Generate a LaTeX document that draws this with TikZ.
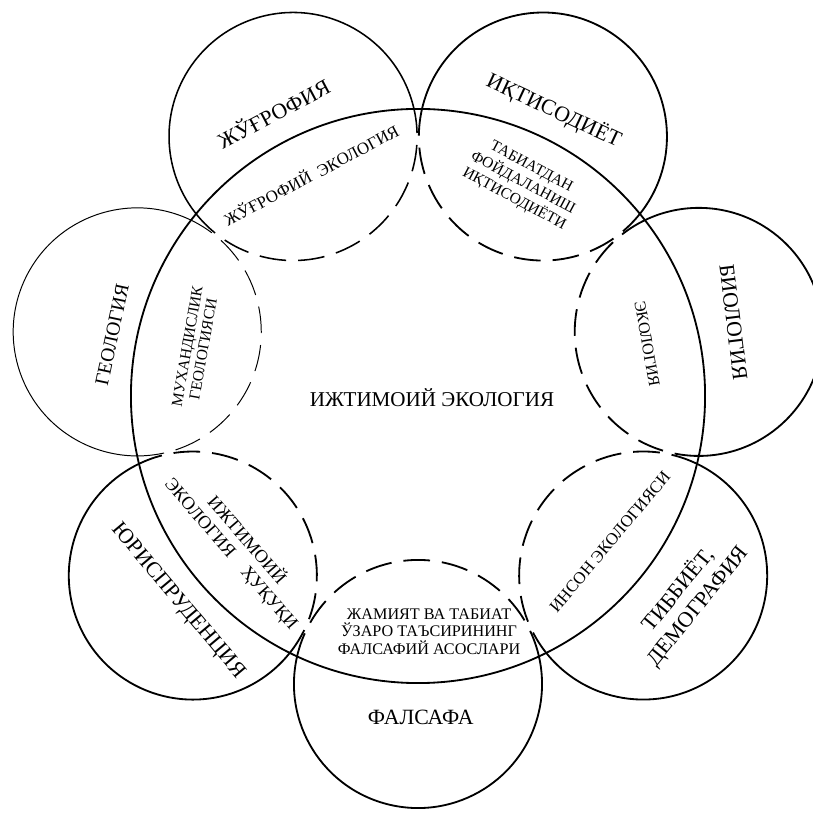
\documentclass[tikz,border=0pt]{standalone}
\usepackage{fontspec}
\setmainfont{Liberation Serif}
\usepackage{tikz}
\newcommand\ringrad{3.1cm}
\newcommand\hubrad{7.175cm}
\tikzstyle{outer part} = [line width=1.3pt]
\tikzstyle{inner part} = [line width=1.3pt, dash pattern=on 19pt off 8.5pt]

\begin{document}
\begin{tikzpicture}[x=0.025cm, y=0.025cm,
                    field label/.style={font=\fontsize{15.5}{18}\selectfont, align=center, inner sep=0pt},
                    overlap label/.style={font=\fontsize{11.5}{13}\selectfont, align=center, inner sep=0pt}]
  \useasboundingbox (0,0) rectangle (812,814);
  \coordinate (o) at (418,418);

  \draw[outer part] (o) circle[radius=\hubrad];

  % seven fields round the centre, the part inside the centre is dashed
  \foreach \phi/\name/\lw in {-90/falsafa/1.3pt, -38.57/tibbiyot/1.3pt, 12.86/biologiya/1.3pt,
                              64.29/iqtisod/1.3pt, 115.71/jugrofiya/1.1pt, 167.14/geologiya/0.7pt,
                              218.57/yurisprud/1.3pt}
  {
    \coordinate (\name) at ([shift={(\phi:288)}]o);
    \draw[outer part, line width=\lw] ([shift={(\phi-103:\ringrad)}]\name)
         arc[start angle=\phi-103, end angle=\phi+103, radius=\ringrad];
    \draw[inner part, line width=\lw] ([shift={(\phi+103:\ringrad)}]\name)
         arc[start angle=\phi+103, end angle=\phi+257, radius=\ringrad];
  }

  \node (hub text) at (432,416) {\fontsize{15}{15}\selectfont ИЖТИМОИЙ ЭКОЛОГИЯ};

  \node[field label, rotate=28] (jugrofiya text) at ([shift={(117.1:318)}]o) {ЖЎҒРОФИЯ};
  \node[field label, rotate=-25] (iqtisod text) at ([shift={(64.5:316)}]o) {ИҚТИСОДИЁТ};
  \node[field label, rotate=-83] (biologiya text) at ([shift={(13.2:324)}]o) {БИОЛОГИЯ};
  \node[field label, rotate=51] (tibbiyot text) at ([shift={(-36.8:337)}]o) {ТИББИЁТ,\\ДЕМОГРАФИЯ};
  \node[field label] (falsafa text) at ([shift={(-89.5:321)}]o) {ФАЛСАФА};
  \node[field label, rotate=-50] (yurisprud text) at ([shift={(220.5:316)}]o) {ЮРИСПРУДЕНЦИЯ};
  \node[field label, rotate=78, font=\fontsize{14}{14}\selectfont] (geologiya text) at ([shift={(168.7:312)}]o) {ГЕОЛОГИЯ};

  \node[overlap label, rotate=28, font=\fontsize{12}{12}\selectfont] (jugrofiya inner) at ([shift={(115.8:246)}]o) {ЖЎҒРОФИЙ\enspace ЭКОЛОГИЯ};
  \node[overlap label, rotate=-28, font=\fontsize{11}{13}\selectfont] (iqtisod inner) at ([shift={(63.8:237)}]o) {ТАБИАТДАН\\ФОЙДАЛАНИШ\\ИҚТИСОДИЁТИ};
  \node[overlap label, rotate=-80] (biologiya inner) at ([shift={(12.8:235)}]o) {ЭКОЛОГИЯ};
  \node[overlap label, rotate=50, font=\fontsize{12}{12}\selectfont] (tibbiyot inner) at ([shift={(-37.2:241)}]o) {ИНСОН ЭКОЛОГИЯСИ};
  \node[overlap label, font=\fontsize{11.5}{12.5}\selectfont] (falsafa inner) at ([shift={(-87.3:236)}]o) {ЖАМИЯТ ВА ТАБИАТ\\ЎЗАРО ТАЪСИРИНИНГ\\ФАЛСАФИЙ АСОСЛАРИ};
  \node[overlap label, rotate=-49, font=\fontsize{13}{14.5}\selectfont] (yurisprud inner) at ([shift={(220.2:234)}]o) {ИЖТИМОИЙ\\ЭКОЛОГИЯ\quad ҲУҚУҚИ};
  \node[overlap label, rotate=80, font=\fontsize{11}{11.5}\selectfont] (geologiya inner) at ([shift={(167.8:228)}]o) {МУХАНДИСЛИК\\ГЕОЛОГИЯСИ};
\end{tikzpicture}
\end{document}
